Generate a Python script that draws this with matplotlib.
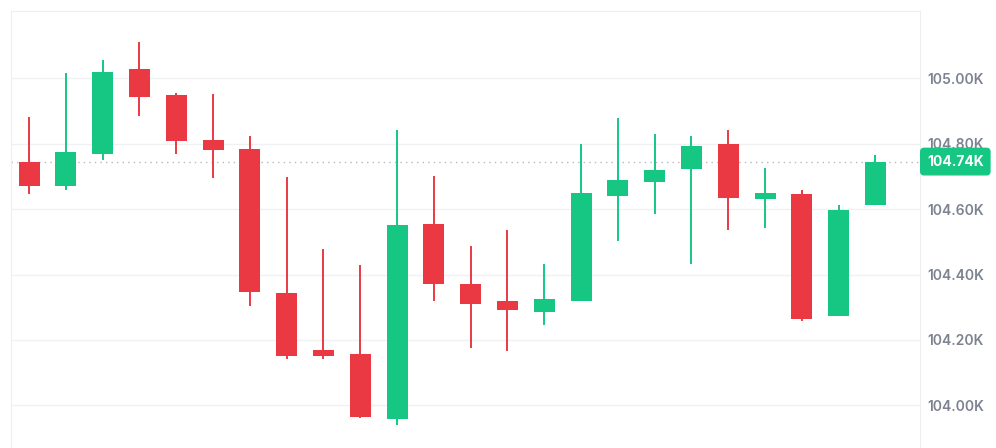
import matplotlib.pyplot as plt
import matplotlib.transforms as mtransforms

# Datos (valores en miles)
opens  = [104.745, 104.670, 104.768, 105.027, 104.947, 104.810, 104.783, 104.344,
          104.169, 104.158, 103.960, 104.555, 104.372, 104.318, 104.285, 104.319,
          104.639, 104.682, 104.723, 104.798, 104.631, 104.646, 104.273, 104.612]
highs  = [104.880, 105.017, 105.055, 105.109, 104.955, 104.951, 104.823, 104.697,
          104.479, 104.429, 104.841, 104.701, 104.487, 104.536, 104.432, 104.799,
          104.877, 104.830, 104.823, 104.841, 104.726, 104.658, 104.612, 104.765]
lows   = [104.647, 104.659, 104.750, 104.883, 104.768, 104.696, 104.304, 104.143,
          104.142, 103.963, 103.940, 104.318, 104.176, 104.166, 104.246, 104.318,
          104.501, 104.586, 104.433, 104.536, 104.543, 104.257, 104.273, 104.612]
closes = [104.670, 104.773, 105.020, 104.941, 104.808, 104.780, 104.346, 104.150,
          104.150, 103.965, 104.550, 104.372, 104.311, 104.292, 104.325, 104.650,
          104.688, 104.718, 104.794, 104.635, 104.650, 104.264, 104.597, 104.745]
ticks = [104.0, 104.2, 104.4, 104.6, 104.8, 105.0]
precio = closes[-1]

verde = '#16c784'
rojo = '#ea3943'

fig = plt.figure(figsize=(9.96, 4.48), dpi=100)
ax = fig.add_axes([11/996, 0, 909/996, 437/448])

x = list(range(len(opens)))
colores = [verde if c >= o else rojo for o, c in zip(opens, closes)]

# Mechas
ax.vlines(x, lows, highs, colors=colores, linewidth=1.4, zorder=3)

# Cuerpos
bases = [min(o, c) for o, c in zip(opens, closes)]
alturas = [max(abs(c - o), 0.004) for o, c in zip(opens, closes)]
ax.bar(x, alturas, bottom=bases, width=0.57, color=colores, zorder=4)

ax.set_xlim(-0.49, 24.21)
ax.set_ylim(103.870, 105.205)

# Grid y ejes
ax.set_yticks(ticks)
ax.set_yticklabels([f'{t:.2f}K' for t in ticks])
ax.yaxis.tick_right()
ax.tick_params(axis='y', length=0, pad=5, labelsize=10, labelcolor='#7c8290')
for lab in ax.get_yticklabels():
    lab.set_fontfamily(['Inter', 'DejaVu Sans'])
    lab.set_fontweight('semibold')
ax.set_xticks([])
ax.grid(axis='y', color='#f0f1f3', linewidth=1, zorder=0)
for s in ['left', 'top', 'right']:
    ax.spines[s].set_color('#eceef1')
ax.spines['bottom'].set_visible(False)

# Linea de precio actual
ax.axhline(precio, color='#b5b8bf', linewidth=1, linestyle=(0, (1, 3)), zorder=2)
trans = mtransforms.blended_transform_factory(ax.transAxes, ax.transData)
ax.annotate(f'{int(precio*100)/100:.2f}K', xy=(1.0, precio), xycoords=trans,
            xytext=(5, 0), textcoords='offset points', ha='left', va='center',
            fontsize=10, fontweight='bold', color='white', family=['Inter', 'DejaVu Sans'],
            bbox=dict(boxstyle='round,pad=0.45,rounding_size=0.25', fc=verde, ec=verde),
            annotation_clip=False, zorder=10)

plt.savefig('out.png', dpi=100)
